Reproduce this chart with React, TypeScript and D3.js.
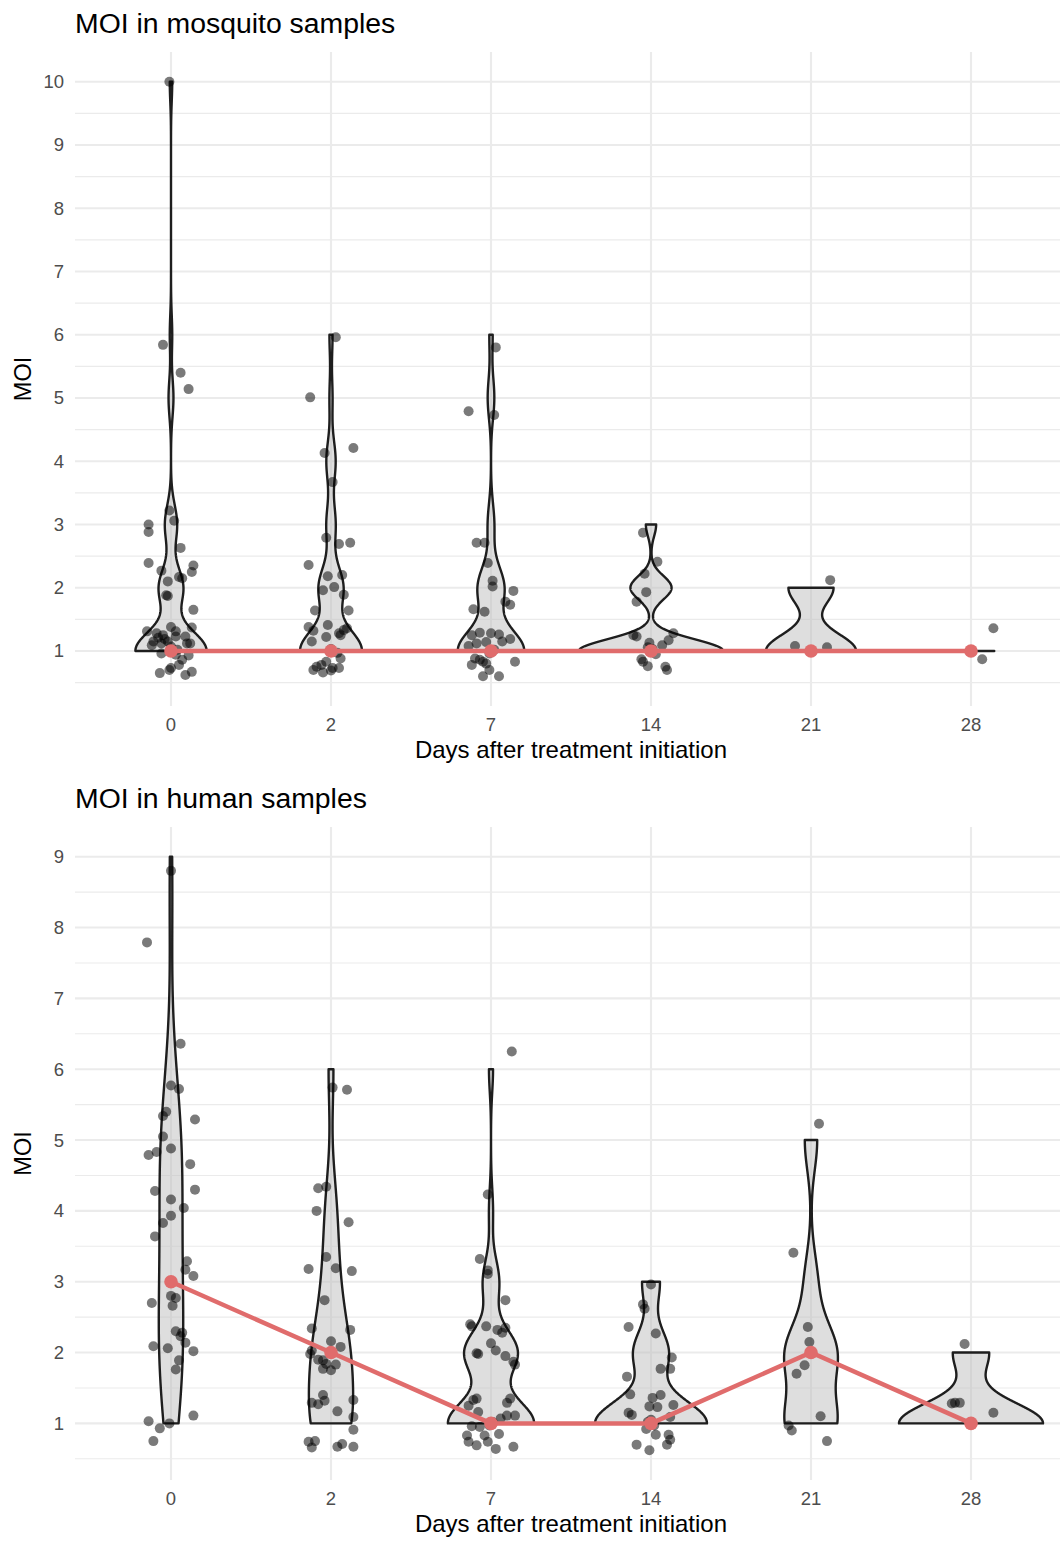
import React, { useRef, useEffect } from "react";
import * as d3 from "d3";

const days = ["0", "2", "7", "14", "21", "28"];

const mosquitoTicks = [1, 2, 3, 4, 5, 6, 7, 8, 9, 10];
const humanTicks = [1, 2, 3, 4, 5, 6, 7, 8, 9];

// jittered samples: [x offset in category widths, MOI]
const mosquitoDay0 = [
  [-0.01, 10.0], [-0.05, 5.84], [0.06, 5.4], [0.11, 5.14],
  [-0.01, 3.22], [0.02, 3.06], [-0.14, 3.0], [-0.14, 2.88], [0.06, 2.63],
  [-0.14, 2.39], [-0.06, 2.27], [0.14, 2.35], [0.13, 2.25], [0.05, 2.17], [0.07, 2.15],
  [-0.02, 2.1], [-0.03, 1.88], [-0.02, 1.87], [0.14, 1.65],
  [0.0, 1.38], [0.13, 1.37], [-0.15, 1.31], [-0.09, 1.28], [-0.05, 1.25], [0.03, 1.31],
  [0.03, 1.23], [0.09, 1.23], [-0.11, 1.15], [-0.12, 1.09], [-0.02, 1.15], [0.1, 1.12],
  [0.12, 1.12], [-0.06, 1.12], [0.0, 1.07], [-0.06, 0.96], [0.03, 0.94], [0.07, 0.86],
  [0.05, 0.78], [0.0, 0.73], [-0.07, 0.65], [0.09, 0.62], [0.13, 0.67], [-0.01, 0.7],
  [0.04, 1.02], [-0.04, 1.19], [0.11, 0.93], [0.01, 0.99], [-0.08, 1.21],
];
const mosquitoDay2 = [
  [0.03, 5.96], [-0.13, 5.01], [0.14, 4.21], [-0.04, 4.13], [0.01, 3.67],
  [-0.03, 2.79], [0.05, 2.69], [0.12, 2.71],
  [-0.14, 2.36], [-0.02, 2.18], [0.07, 2.2], [-0.05, 1.96], [0.02, 2.01], [0.08, 1.89],
  [-0.1, 1.64], [0.11, 1.64],
  [-0.02, 1.41], [-0.14, 1.38], [-0.11, 1.32], [0.05, 1.28], [0.08, 1.33], [0.1, 1.36],
  [-0.03, 1.22], [-0.12, 1.15], [0.06, 1.25], [0.06, 0.88], [-0.03, 0.83], [-0.06, 0.78],
  [0.01, 0.73], [-0.11, 0.7], [-0.05, 0.66], [0.0, 0.69], [0.05, 0.73], [-0.09, 0.75],
  [0.0, 1.03], [0.04, 0.97],
];
const mosquitoDay7 = [
  [0.03, 5.8], [-0.14, 4.79], [0.02, 4.73], [-0.09, 2.71], [-0.04, 2.71],
  [-0.02, 2.39], [0.01, 2.11], [0.01, 2.02], [0.14, 1.95], [0.09, 1.78], [0.12, 1.73],
  [-0.11, 1.66], [-0.04, 1.62],
  [-0.12, 1.25], [-0.07, 1.29], [0.0, 1.28], [0.05, 1.26], [0.12, 1.19], [0.07, 1.15],
  [-0.14, 1.08], [-0.09, 1.12], [-0.03, 1.14], [-0.1, 0.88], [-0.12, 0.78], [-0.05, 0.83],
  [-0.01, 0.7], [0.15, 0.83], [-0.05, 0.6], [0.05, 0.6], [-0.07, 0.86], [-0.03, 0.8],
  [0.02, 1.02], [-0.01, 0.96],
];
const mosquitoDay14 = [
  [-0.05, 2.87], [0.04, 2.41], [-0.04, 2.22], [-0.03, 1.93], [-0.09, 1.78],
  [-0.11, 1.25], [-0.09, 1.23], [-0.01, 1.13], [0.07, 1.09], [0.11, 1.17], [0.14, 1.28],
  [-0.06, 0.87], [-0.05, 0.83], [-0.02, 0.76], [0.09, 0.75], [0.1, 0.7],
  [0.01, 1.03], [0.03, 0.95], [-0.02, 1.06],
];
const mosquitoDay21 = [[-0.1, 1.08], [0.1, 1.06], [0.12, 2.12]];
const mosquitoDay28 = [[0.07, 0.87], [0.14, 1.36]];

const humanDay0 = [
  [0.0, 8.8], [-0.15, 7.79], [0.06, 6.36], [0.0, 5.77], [0.05, 5.72],
  [0.15, 5.29], [-0.03, 5.4], [-0.05, 5.34], [-0.05, 5.05], [-0.14, 4.79], [-0.09, 4.83],
  [0.0, 4.88], [0.12, 4.66],
  [-0.1, 4.28], [0.15, 4.3], [0.0, 4.16], [0.08, 4.04], [0.0, 3.93], [-0.05, 3.83], [-0.1, 3.64],
  [0.1, 3.29], [0.09, 3.17], [0.14, 3.08], [-0.12, 2.7], [0.0, 2.8], [0.03, 2.77], [0.01, 2.66],
  [0.03, 2.3], [0.07, 2.28], [0.06, 2.23], [0.09, 2.14], [0.14, 2.02], [-0.11, 2.09],
  [-0.02, 2.06], [0.05, 1.89], [0.03, 1.76],
  [-0.14, 1.03], [-0.07, 0.93], [-0.11, 0.75], [-0.01, 1.0], [0.14, 1.11],
];
const humanDay2 = [
  [0.01, 5.74], [0.1, 5.71], [-0.08, 4.32], [-0.03, 4.34], [-0.09, 4.0], [0.11, 3.84],
  [-0.03, 3.35], [-0.14, 3.18], [0.03, 3.19], [0.13, 3.15], [-0.04, 2.74],
  [-0.12, 2.34], [0.12, 2.32], [0.0, 2.16], [0.06, 2.08], [-0.13, 1.98], [-0.12, 2.03],
  [-0.08, 1.9], [-0.05, 1.89], [-0.03, 1.84], [0.03, 1.83], [-0.05, 1.77], [0.0, 1.75],
  [-0.05, 1.4], [-0.12, 1.29], [-0.08, 1.27], [-0.04, 1.32], [0.14, 1.33], [0.04, 1.17],
  [0.14, 1.09], [0.14, 0.91], [-0.14, 0.74], [-0.1, 0.75], [-0.12, 0.66], [0.04, 0.67],
  [0.07, 0.71], [0.14, 0.67],
];
const humanDay7 = [
  [0.13, 6.25], [-0.02, 4.23], [-0.07, 3.32], [-0.02, 3.16], [-0.02, 3.11], [0.09, 2.74],
  [-0.13, 2.4], [-0.12, 2.37], [-0.03, 2.37], [0.04, 2.32], [0.07, 2.28], [0.09, 2.35],
  [0.0, 2.13], [0.03, 2.03], [-0.09, 1.99], [-0.08, 1.98], [0.09, 1.95], [0.14, 1.87], [0.15, 1.83],
  [-0.09, 1.35], [-0.11, 1.33], [-0.14, 1.25], [-0.08, 1.16], [0.12, 1.35], [0.1, 1.29],
  [0.15, 1.11], [0.1, 1.11], [0.06, 1.07], [-0.12, 0.96], [-0.07, 0.95], [-0.15, 0.83],
  [-0.14, 0.74], [-0.09, 0.69], [-0.04, 0.83], [-0.02, 0.74], [0.05, 0.85], [0.03, 0.64],
  [0.14, 0.67], [0.01, 1.02], [-0.01, 0.97],
];
const humanDay14 = [
  [0.0, 2.96], [-0.05, 2.68], [-0.04, 2.62], [-0.14, 2.36], [0.03, 2.27], [0.13, 1.93],
  [0.06, 1.77], [0.12, 1.77], [-0.15, 1.66],
  [-0.13, 1.41], [0.06, 1.4], [0.01, 1.36], [-0.01, 1.24], [0.04, 1.23], [0.14, 1.26],
  [-0.14, 1.15], [-0.12, 1.12], [0.12, 1.09], [0.03, 0.84], [0.11, 0.84], [0.12, 0.77],
  [0.1, 0.7], [-0.09, 0.7], [-0.01, 0.62], [-0.02, 1.02], [0.02, 0.97], [0.0, 1.05], [-0.03, 0.92],
];
const humanDay21 = [
  [0.05, 5.23], [-0.11, 3.41], [-0.02, 2.36], [-0.01, 2.15], [-0.04, 1.82], [-0.09, 1.7],
  [0.06, 1.1], [-0.14, 0.97], [-0.12, 0.9], [0.1, 0.75],
];
const humanDay28 = [[-0.04, 2.12], [-0.12, 1.28], [-0.1, 1.29], [-0.07, 1.29], [0.14, 1.15]];

const W = 1060;
const H = 1543;
const FONT = '"Liberation Sans", Arial, Helvetica, sans-serif';
const LEFT = 75;
const RIGHT = 1067;

const panels = [
  {
    title: "MOI in mosquito samples",
    groups: [mosquitoDay0, mosquitoDay2, mosquitoDay7, mosquitoDay14, mosquitoDay21, mosquitoDay28],
    ticks: mosquitoTicks,
    top: 52,
    bottom: 706,
    titleY: 33,
    tickY: 731,
    xTitleY: 758,
  },
  {
    title: "MOI in human samples",
    groups: [humanDay0, humanDay2, humanDay7, humanDay14, humanDay21, humanDay28],
    ticks: humanTicks,
    top: 827,
    bottom: 1480,
    titleY: 808,
    tickY: 1505,
    xTitleY: 1532,
  },
];

// R's bw.nrd0
const nrd0 = (v: number[]) => {
  const s = v.slice().sort(d3.ascending);
  const hi = d3.deviation(s) || 0;
  const iqr = (d3.quantileSorted(s, 0.75) as number) - (d3.quantileSorted(s, 0.25) as number);
  let lo = Math.min(hi, iqr / 1.34);
  if (!lo) lo = hi || Math.abs(s[0]) || 1;
  return 0.9 * lo * Math.pow(s.length, -0.2);
};

const density = (v: number[]) => {
  const bw = nrd0(v);
  const lo = d3.min(v) as number;
  const hi = d3.max(v) as number;
  const k = 1 / (v.length * bw * Math.sqrt(2 * Math.PI));
  return d3.range(512).map((i) => {
    const y = lo + ((hi - lo) * i) / 511;
    return [y, k * d3.sum(v, (u) => Math.exp(-0.5 * ((y - u) / bw) ** 2))];
  });
};

const drawPanel = (svg: any, p: any) => {
  const x = d3.scalePoint().domain(days).range([LEFT, RIGHT]).padding(0.6);
  const step = x.step();
  const vals: number[][] = p.groups.map((g: number[][]) => g.map((d) => Math.round(d[1])));
  const allY = p.groups.flat().map((d: number[]) => d[1]).concat(vals.flat());
  const lo = d3.min(allY) as number;
  const hi = d3.max(allY) as number;
  const pad = (hi - lo) * 0.05;
  const y = d3.scaleLinear().domain([lo - pad, hi + pad]).range([p.bottom, p.top]);
  const [d0, d1] = y.domain();

  const minor = [p.ticks[0] - 0.5, ...p.ticks.map((t: number) => t + 0.5)].filter(
    (v) => v >= d0 && v <= d1
  );

  const grid = svg.append("g");
  grid
    .selectAll(".minor")
    .data(minor)
    .join("line")
    .attr("x1", LEFT)
    .attr("x2", RIGHT)
    .attr("y1", (d: number) => y(d))
    .attr("y2", (d: number) => y(d))
    .attr("stroke", "#EBEBEB")
    .attr("stroke-width", 1.1);
  grid
    .selectAll(".major")
    .data(p.ticks)
    .join("line")
    .attr("x1", LEFT)
    .attr("x2", RIGHT)
    .attr("y1", (d: number) => y(d))
    .attr("y2", (d: number) => y(d))
    .attr("stroke", "#EBEBEB")
    .attr("stroke-width", 2.1);
  grid
    .selectAll(".vert")
    .data(days)
    .join("line")
    .attr("x1", (d: string) => x(d))
    .attr("x2", (d: string) => x(d))
    .attr("y1", p.top)
    .attr("y2", p.bottom)
    .attr("stroke", "#EBEBEB")
    .attr("stroke-width", 2.1);

  // violins, scale = "area"
  const dens = vals.map(density);
  const maxD = d3.max(dens.flat(), (d) => d[1]) as number;
  const half = 0.45 * step;
  dens.forEach((dd, i) => {
    const cx = x(days[i]) as number;
    const area = d3
      .area<number[]>()
      .y((d) => y(d[0]))
      .x0((d) => cx - (half * d[1]) / maxD)
      .x1((d) => cx + (half * d[1]) / maxD);
    svg
      .append("path")
      .attr("d", area(dd))
      .attr("fill", "#BEBEBE")
      .attr("fill-opacity", 0.5)
      .attr("stroke", "#1e1e1e")
      .attr("stroke-width", 2.4)
      .attr("stroke-linejoin", "round");
  });

  // jittered points
  p.groups.forEach((g: number[][], i: number) => {
    const cx = x(days[i]) as number;
    svg
      .append("g")
      .selectAll("circle")
      .data(g)
      .join("circle")
      .attr("cx", (d: number[]) => cx + d[0] * step)
      .attr("cy", (d: number[]) => y(d[1]))
      .attr("r", 5)
      .attr("fill", "#000")
      .attr("fill-opacity", 0.52);
  });

  // medians
  const medians = vals.map((v, i) => [x(days[i]) as number, d3.median(v) as number]);
  svg
    .append("path")
    .attr("d", d3.line<number[]>().x((d) => d[0]).y((d) => y(d[1]))(medians))
    .attr("fill", "none")
    .attr("stroke", "#E06C6C")
    .attr("stroke-width", 4.5);
  svg
    .append("g")
    .selectAll("circle")
    .data(medians)
    .join("circle")
    .attr("cx", (d: number[]) => d[0])
    .attr("cy", (d: number[]) => y(d[1]))
    .attr("r", 6.8)
    .attr("fill", "#E06C6C");

  // axes text
  svg
    .append("g")
    .selectAll("text")
    .data(p.ticks)
    .join("text")
    .attr("x", 64)
    .attr("y", (d: number) => y(d))
    .attr("dy", "0.35em")
    .attr("text-anchor", "end")
    .attr("font-size", 18.5)
    .attr("fill", "#4D4D4D")
    .text((d: number) => d);
  svg
    .append("g")
    .selectAll("text")
    .data(days)
    .join("text")
    .attr("x", (d: string) => x(d))
    .attr("y", p.tickY)
    .attr("text-anchor", "middle")
    .attr("font-size", 18.5)
    .attr("fill", "#4D4D4D")
    .text((d: string) => d);
  svg
    .append("text")
    .attr("x", (LEFT + RIGHT) / 2)
    .attr("y", p.xTitleY)
    .attr("text-anchor", "middle")
    .attr("font-size", 24)
    .attr("fill", "#000")
    .text("Days after treatment initiation");
  svg
    .append("text")
    .attr("transform", `translate(31,${(p.top + p.bottom) / 2}) rotate(-90)`)
    .attr("text-anchor", "middle")
    .attr("font-size", 23.5)
    .attr("fill", "#000")
    .text("MOI");
  svg
    .append("text")
    .attr("x", LEFT)
    .attr("y", p.titleY)
    .attr("font-size", 28.4)
    .attr("fill", "#000")
    .text(p.title);
};

const App = () => {
  const chartRef = useRef<HTMLDivElement>(null);

  useEffect(() => {
    document.body.style.margin = "0";
    const svg = d3
      .select(chartRef.current)
      .append("svg")
      .attr("width", W)
      .attr("height", H)
      .style("display", "block")
      .style("font-family", FONT);

    svg.append("rect").attr("width", W).attr("height", H).attr("fill", "#fff");
    panels.forEach((p) => drawPanel(svg, p));

    return () => {
      if (chartRef.current) chartRef.current.innerHTML = "";
    };
  }, []);

  return <div ref={chartRef}></div>;
};

export default App;
